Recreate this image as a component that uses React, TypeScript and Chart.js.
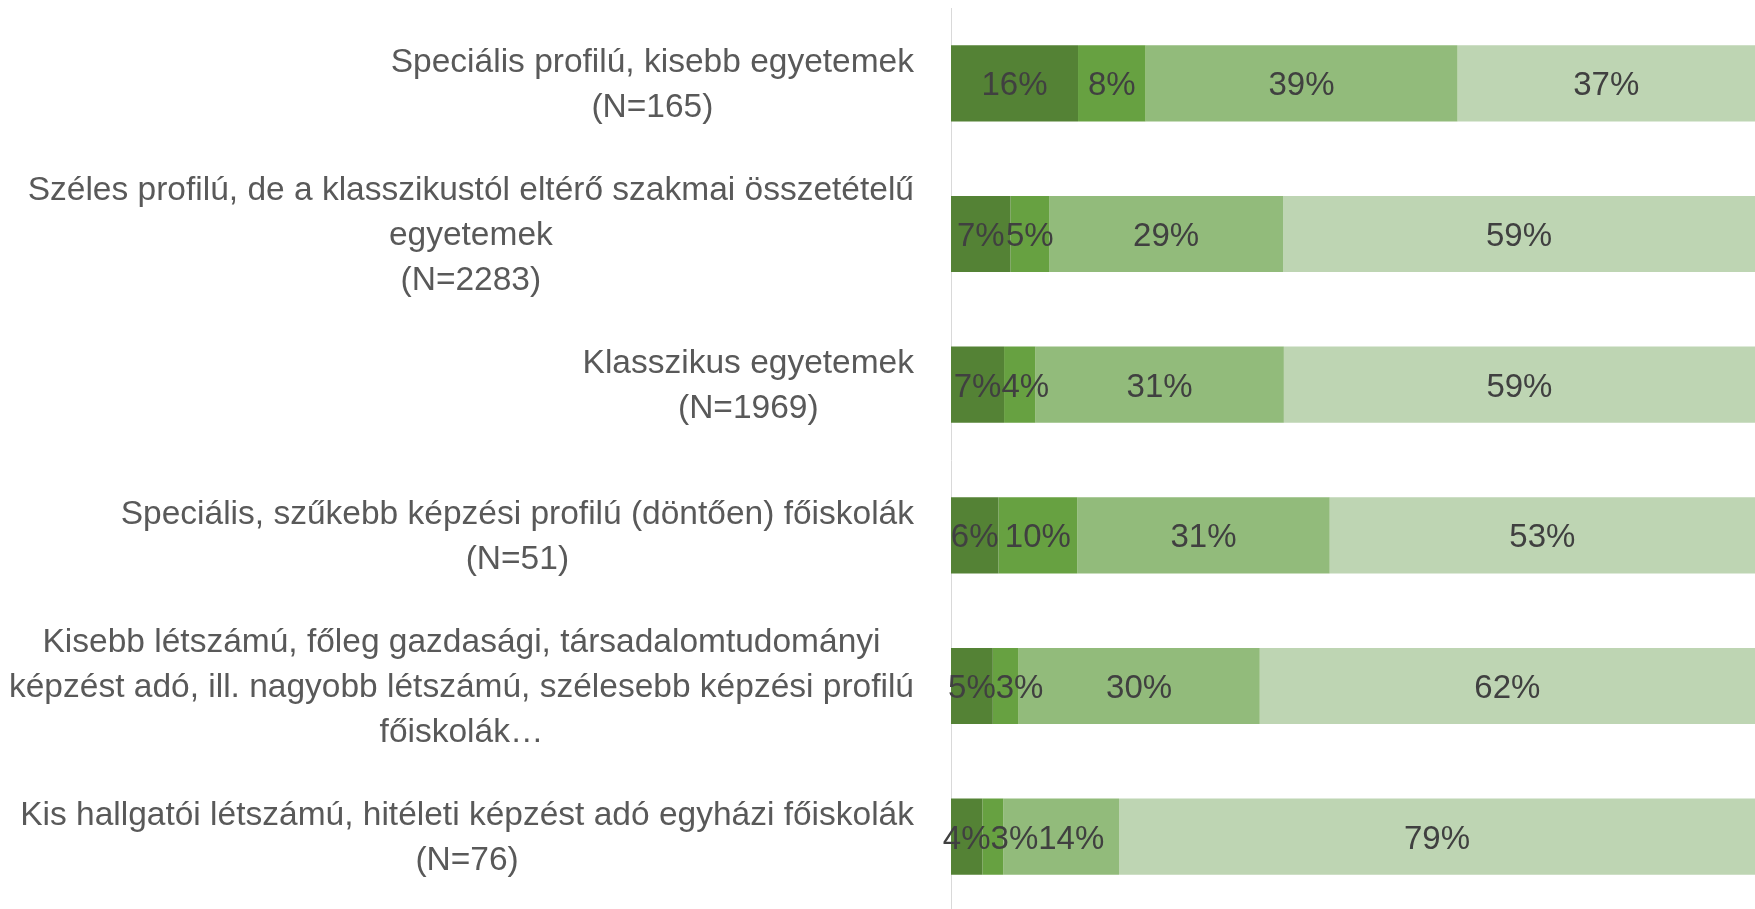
import { useEffect, useRef } from 'react';
import { Chart, registerables } from 'chart.js';

Chart.register(...registerables);

const FONT = "'Liberation Sans', Arial, sans-serif";

const categories: string[][] = [
  ['Speciális profilú, kisebb egyetemek', '(N=165)'],
  ['Széles profilú, de a klasszikustól eltérő szakmai összetételű', 'egyetemek', '(N=2283)'],
  ['Klasszikus egyetemek', '(N=1969)'],
  ['Speciális, szűkebb képzési profilú (döntően) főiskolák', '(N=51)'],
  [
    'Kisebb létszámú, főleg gazdasági, társadalomtudományi',
    'képzést adó, ill. nagyobb létszámú, szélesebb képzési profilú',
    'főiskolák…',
  ],
  ['Kis hallgatói létszámú, hitéleti képzést adó egyházi főiskolák', '(N=76)'],
];

const seriesNames = ['1', '2', '3', '4'];
const series1 = [15.8, 7.4, 6.6, 5.9, 5.2, 3.9];
const series2 = [8.4, 4.8, 3.9, 9.8, 3.2, 2.6];
const series3 = [38.8, 29.1, 30.9, 31.4, 30.0, 14.4];
const series4 = [37.0, 58.7, 58.6, 52.9, 61.6, 79.1];
const seriesColors = ['#548235', '#67a141', '#92bb7b', '#bed5b3'];

const labelPlugin = {
  id: 'customLabels',
  afterDatasetsDraw(chart: any) {
    const ctx = chart.ctx as CanvasRenderingContext2D;
    ctx.save();
    ctx.font = `33px ${FONT}`;
    ctx.textAlign = 'center';
    ctx.textBaseline = 'middle';
    ctx.fillStyle = '#404040';
    const nCat = categories.length;
    for (let j = 0; j < nCat; j++) {
      let prevRight = -Infinity;
      chart.data.datasets.forEach((ds: any, i: number) => {
        const meta = chart.getDatasetMeta(i);
        const el: any = meta.data[j];
        if (!el) return;
        const v = ds.data[j] as number;
        const text = Math.round(v) + '%';
        const w = ctx.measureText(text).width;
        const { x, base, y } = el.getProps(['x', 'base', 'y'], true);
        let cx = (x + base) / 2;
        if (cx - w / 2 < prevRight) cx = prevRight + w / 2;
        prevRight = cx + w / 2;
        ctx.fillText(text, cx, y + 3);
      });
    }
    const yScale = chart.scales.y;
    ctx.font = `33.5px ${FONT}`;
    ctx.fillStyle = '#595959';
    const right = chart.chartArea.left - 37;
    const lh = 45;
    categories.forEach((lines, i) => {
      const cy = yScale.getPixelForValue(i);
      const w = Math.max(...lines.map((l) => ctx.measureText(l).width));
      const cx = right - w / 2;
      lines.forEach((l, k) => {
        ctx.fillText(l, cx, cy + (k - (lines.length - 1) / 2) * lh + 2);
      });
    });
    ctx.restore();
  },
};

export default function App() {
  const ref = useRef<HTMLCanvasElement | null>(null);
  useEffect(() => {
    if (!ref.current) return;
    const values = [series1, series2, series3, series4];
    const chart = new Chart(ref.current, {
      type: 'bar',
      data: {
        labels: categories.map((c) => c.join(' ')),
        datasets: values.map((d, i) => ({
          label: seriesNames[i],
          data: d,
          backgroundColor: seriesColors[i],
          borderWidth: 0,
          barPercentage: 0.505,
          categoryPercentage: 1,
        })),
      },
      options: {
        indexAxis: 'y',
        animation: false,
        responsive: true,
        maintainAspectRatio: false,
        layout: { padding: { top: 8, bottom: 0, left: 0, right: 0 } },
        plugins: {
          legend: { display: false },
          tooltip: { enabled: false },
          title: { display: false },
        },
        scales: {
          x: {
            stacked: true,
            min: 0,
            max: 100,
            display: false,
          },
          y: {
            stacked: true,
            ticks: { display: false },
            grid: { display: true, drawOnChartArea: false, drawTicks: false, color: 'rgba(0,0,0,0)' },
            border: { display: true, color: '#d9d9d9', width: 1 },
            afterFit: (scale: any) => {
              scale.width = 951;
            },
          },
        },
      },
      plugins: [labelPlugin],
    });
    return () => chart.destroy();
  }, []);
  return (
    <div style={{ position: 'fixed', left: 0, top: 0, width: 1755, height: 912 }}>
      <canvas ref={ref} />
    </div>
  );
}
